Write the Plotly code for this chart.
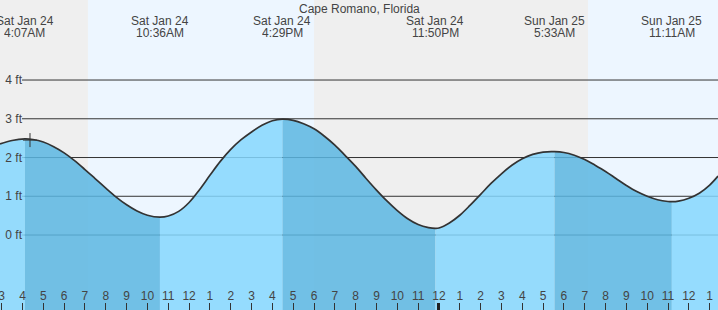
import plotly.graph_objects as go

# ---------------- data ----------------
title_text = "Cape Romano, Florida"

# tide events (hours since Sat Jan 24 00:00)
event_hours = [4.117, 10.6, 16.483, 23.833, 29.55, 35.183]
event_day = ["Sat Jan 24", "Sat Jan 24", "Sat Jan 24", "Sat Jan 24", "Sun Jan 25", "Sun Jan 25"]
event_time = ["4:07AM", "10:36AM", "4:29PM", "11:50PM", "5:33AM", "11:11AM"]
event_is_high = [True, False, True, False, True, False]

# tide curve (hours since Jan 24 00:00, feet)
curve_hours = [2.92, 3.5, 4.117, 4.5, 5.0, 5.5, 6.0, 6.5, 7.0, 7.5, 8.0, 8.5, 9.0, 9.5, 10.0,
               10.6, 11.0, 11.5, 12.0, 12.5, 13.0, 13.5, 14.0, 14.5, 15.0, 15.5, 16.0,
               16.483, 17.0, 17.5, 18.0, 18.5, 19.0, 19.5, 20.0, 20.5, 21.0, 21.5, 22.0,
               22.5, 23.0, 23.5, 23.833, 24.0, 24.5, 25.0, 25.5, 26.0, 26.5, 27.0, 27.5,
               28.0, 28.5, 29.0, 29.55, 30.0, 30.5, 31.0, 31.5, 32.0, 32.5, 33.0, 33.5,
               34.0, 34.5, 35.0, 35.183, 35.5, 36.0, 36.5, 37.0, 37.4]
curve_feet = [2.35, 2.44, 2.48, 2.465, 2.40, 2.28, 2.12, 1.92, 1.69, 1.45, 1.21, 0.98, 0.78,
              0.62, 0.51, 0.46, 0.49, 0.61, 0.84, 1.17, 1.54, 1.90, 2.21, 2.46, 2.66, 2.83,
              2.95, 2.99, 2.96, 2.87, 2.74, 2.55, 2.32, 2.05, 1.77, 1.46, 1.16, 0.88, 0.63,
              0.42, 0.27, 0.19, 0.17, 0.18, 0.31, 0.51, 0.77, 1.05, 1.33, 1.58, 1.80,
              1.97, 2.08, 2.14, 2.15, 2.13, 2.06, 1.95, 1.80, 1.64, 1.46, 1.28, 1.12,
              1.00, 0.91, 0.865, 0.86, 0.875, 0.95, 1.08, 1.29, 1.52]

# daylight (sunrise / sunset) in hours since Jan 24 00:00
daylight_start = [7.143, 31.157]
daylight_end = [17.998, 40.0]

# current-time marker
now_hour = [4.36]
now_feet = [2.45]

# axis ticks
hour_ticks = [3, 4, 5, 6, 7, 8, 9, 10, 11, 12, 13, 14, 15, 16, 17, 18, 19, 20,
              21, 22, 23, 24, 25, 26, 27, 28, 29, 30, 31, 32, 33, 34, 35, 36, 37]
hour_labels = ["3", "4", "5", "6", "7", "8", "9", "10", "11", "12", "1", "2", "3",
               "4", "5", "6", "7", "8", "9", "10", "11", "12", "1", "2", "3", "4",
               "5", "6", "7", "8", "9", "10", "11", "12", "1"]
midnight_ticks = [24]
ft_ticks = [0, 1, 2, 3, 4]
ft_labels = ["0 ft", "1 ft", "2 ft", "3 ft", "4 ft"]

X_RANGE = [2.92, 37.40]
Y_RANGE = [-1.935, 6.065]
W, H = 718, 310

LIGHT_WATER = "rgba(133,215,254,0.85)"
DARK_WATER = "rgba(90,182,226,0.85)"
NIGHT = "#efefef"
DAY = "#edf6ff"
TXT = "#444444"
FONT = "Liberation Sans, Arial, sans-serif"

fig = go.Figure()

# ---------------- water fills, split at tide events ----------------
bounds = [curve_hours[0]] + event_hours + [curve_hours[-1]]
for k in range(len(bounds) - 1):
    a, b = bounds[k], bounds[k + 1]
    xs = [h for h in curve_hours if a - 1e-9 <= h <= b + 1e-9]
    ys = [v for h, v in zip(curve_hours, curve_feet) if a - 1e-9 <= h <= b + 1e-9]
    falling = k >= 1 and event_is_high[k - 1]
    color = DARK_WATER if falling else LIGHT_WATER
    fig.add_trace(go.Scatter(x=[a, b], y=[Y_RANGE[0] - 1, Y_RANGE[0] - 1], mode="lines",
                             line=dict(width=0), hoverinfo="skip", showlegend=False))
    fig.add_trace(go.Scatter(x=xs, y=ys, mode="lines", line=dict(width=0, shape="spline"),
                             fill="tonexty", fillcolor=color, hoverinfo="skip",
                             showlegend=False))

# ---------------- tide curve ----------------
fig.add_trace(go.Scatter(x=curve_hours, y=curve_feet, mode="lines",
                         line=dict(color="#333333", width=1.7, shape="spline"),
                         showlegend=False, hoverinfo="skip"))

fig.add_trace(go.Scatter(x=now_hour, y=now_feet, mode="markers",
                         marker=dict(symbol="cross-thin", size=10,
                                     line=dict(color="#333333", width=1)),
                         showlegend=False, hoverinfo="skip"))

# helper traces so the overlaid axes are drawn
for xa, ya in [("x2", "y"), ("x3", "y"), ("x", "y2")]:
    fig.add_trace(go.Scatter(x=[X_RANGE[0]], y=[Y_RANGE[0] - 5], xaxis=xa, yaxis=ya,
                             mode="markers", marker=dict(opacity=0),
                             showlegend=False, hoverinfo="skip"))

# ---------------- background shapes ----------------
shapes = [dict(type="rect", xref="paper", yref="paper", x0=0, x1=1, y0=0, y1=1,
               fillcolor=NIGHT, line=dict(width=0), layer="below")]
for s, e in zip(daylight_start, daylight_end):
    shapes.append(dict(type="rect", xref="x", yref="paper", x0=s, x1=e, y0=0, y1=1,
                       fillcolor=DAY, line=dict(width=0), layer="below"))
for v in ft_ticks:
    shapes.append(dict(type="line", xref="paper", yref="y", x0=22 / W, x1=1, y0=v, y1=v,
                       line=dict(color="#333333", width=1), layer="below"))

# ---------------- annotations ----------------
def label(x, xref, py, text):
    return dict(x=x, xref=xref, y=1 - py / H, yref="paper", text=text, showarrow=False,
                xanchor="center", yanchor="middle", height=12, borderpad=0,
                font=dict(family=FONT, size=12, color=TXT))

ann = [label(0.5, "paper", 9, title_text)]
for h, d, t in zip(event_hours, event_day, event_time):
    ann.append(label(h, "x", 21.5, d))
    ann.append(label(h, "x", 33.5, t))

fig.update_layout(
    width=W, height=H,
    margin=dict(l=0, r=0, t=0, b=0, autoexpand=False),
    paper_bgcolor=NIGHT, plot_bgcolor="rgba(0,0,0,0)",
    shapes=shapes, annotations=ann,
    xaxis=dict(range=X_RANGE, tickvals=hour_ticks, ticks="inside", ticklen=7,
               tickcolor="#333333", tickwidth=1, showticklabels=False,
               showgrid=False, zeroline=False, showline=False, fixedrange=True),
    xaxis2=dict(range=X_RANGE, overlaying="x", side="bottom", anchor="y",
                tickvals=midnight_ticks, ticks="inside", ticklen=7, tickwidth=3,
                tickcolor="#222222", showticklabels=False, showgrid=False,
                zeroline=False, showline=False),
    xaxis3=dict(range=X_RANGE, overlaying="x", side="bottom", anchor="free",
                position=1 - 287 / H, tickvals=hour_ticks, ticktext=hour_labels,
                ticks="", showgrid=False, zeroline=False, showline=False,
                ticklabeloverflow="allow", automargin=False,
                tickfont=dict(family=FONT, size=12, color=TXT)),
    yaxis=dict(range=Y_RANGE, showticklabels=False, ticks="",
               showgrid=False, zeroline=False, showline=False, fixedrange=True),
    yaxis2=dict(range=Y_RANGE, overlaying="y", side="left", anchor="free",
                position=22 / W, tickvals=ft_ticks, ticktext=ft_labels, ticks="",
                showgrid=False, zeroline=False, showline=False, automargin=False,
                tickfont=dict(family=FONT, size=12, color=TXT)),
    showlegend=False,
)

fig.write_html("out.html", config={"displayModeBar": False})
